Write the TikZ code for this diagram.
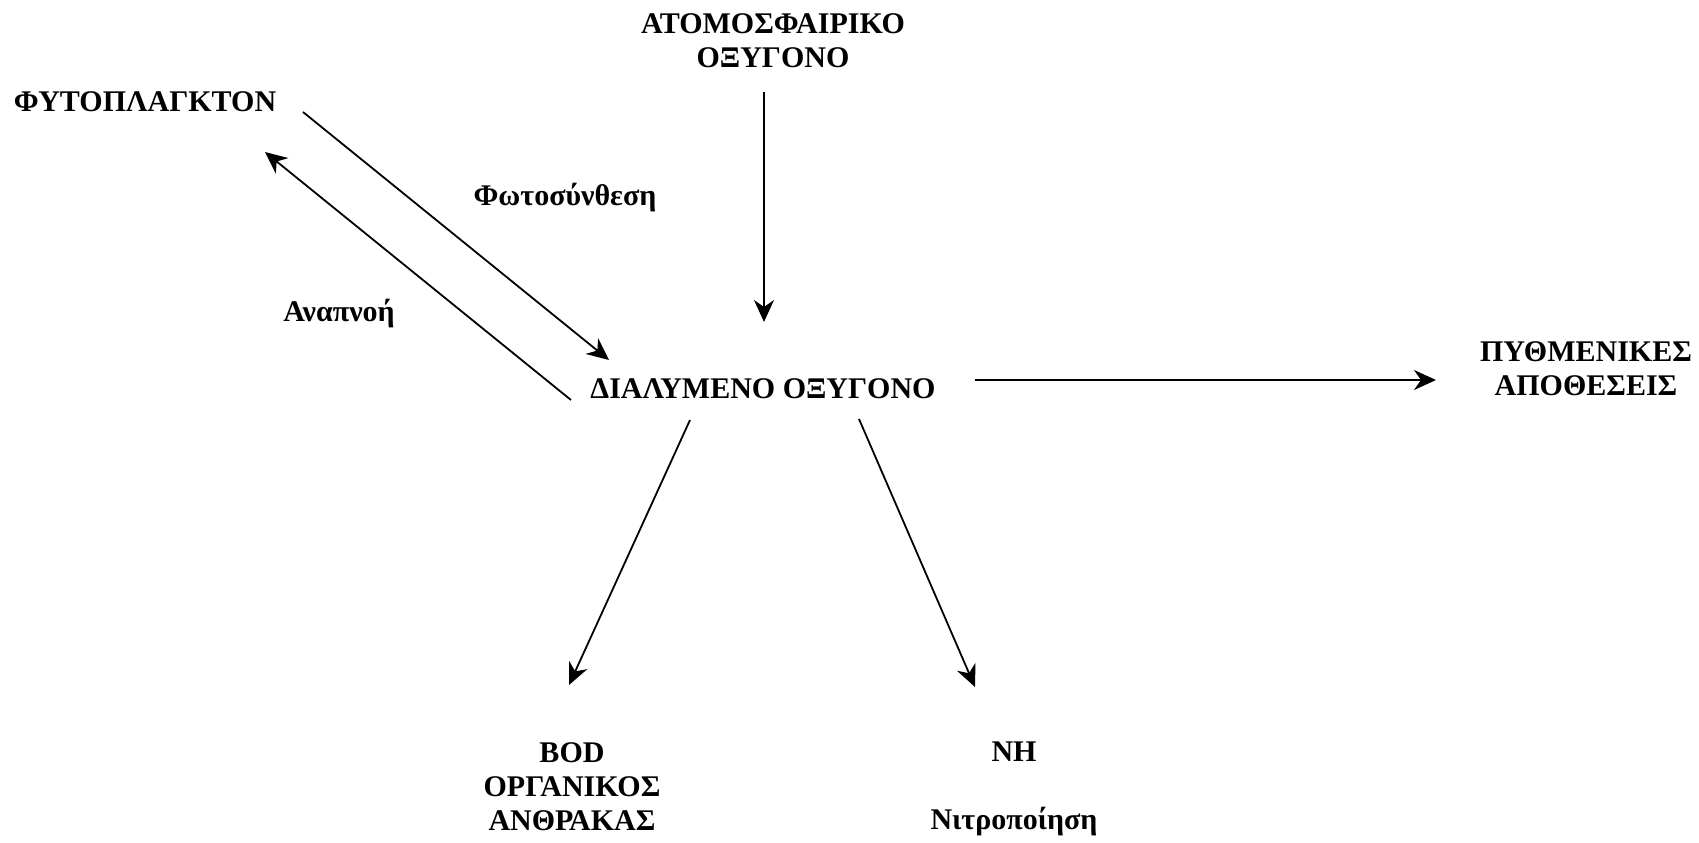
\documentclass[tikz,border=0pt]{standalone}
\usepackage{fontspec}
\setmainfont{Liberation Serif}
\usetikzlibrary{arrows.meta}

\tikzset{
  lbl/.style={font=\bfseries\fontsize{15}{17}\selectfont,align=center,inner sep=0pt},
}

\begin{document}
\begin{tikzpicture}[x=0.5pt,y=-0.5pt,>={Stealth[length=11pt,width=10pt,inset=3.5pt]},line width=0.9pt]
		\useasboundingbox (0,0) rectangle (1699,842);
		\node[lbl] (atm)   at (773,41)    {ΑΤΟΜΟΣΦΑΙΡΙΚΟ\\ΟΞΥΓΟΝΟ};
		\node[lbl] (phyto) at (145,102)   {ΦΥΤΟΠΛΑΓΚΤΟΝ};
		\node[lbl] (diss)  at (763,389)   {ΔΙΑΛΥΜΕΝΟ ΟΞΥΓΟΝΟ};
		\node[lbl] (sed)   at (1586,368.5) {ΠΥΘΜΕΝΙΚΕΣ\\ΑΠΟΘΕΣΕΙΣ};
		\node[lbl] (bod)   at (572,786.5) {BOD\\ΟΡΓΑΝΙΚΟΣ\\ΑΝΘΡΑΚΑΣ};
		\node[lbl] (nh)    at (1014,752)  {NH};
		\node[lbl] (nitr)  at (1014,822)  {Νιτροποίηση};
		\node[lbl] (photo) at (565,198)   {Φωτοσύνθεση};
		\node[lbl] (resp)  at (339,314)   {Αναπνοή};

		\path[->] ([shift={(-9,51)}]atm.center) edge ([shift={(1,-67)}]diss.center)
		([shift={(158,10)}]phyto.center) edge ([shift={(-154,-29)}]diss.center)
		([shift={(-192,11)}]diss.center) edge ([shift={(120,50)}]phyto.center)
		([shift={(212,-9)}]diss.center) edge ([shift={(-150,11.5)}]sed.center)
		([shift={(-73,31)}]diss.center) edge ([shift={(-3,-101.5)}]bod.center)
		([shift={(96,30)}]diss.center) edge ([shift={(-39,-65)}]nh.center);
	\end{tikzpicture}
\end{document}
